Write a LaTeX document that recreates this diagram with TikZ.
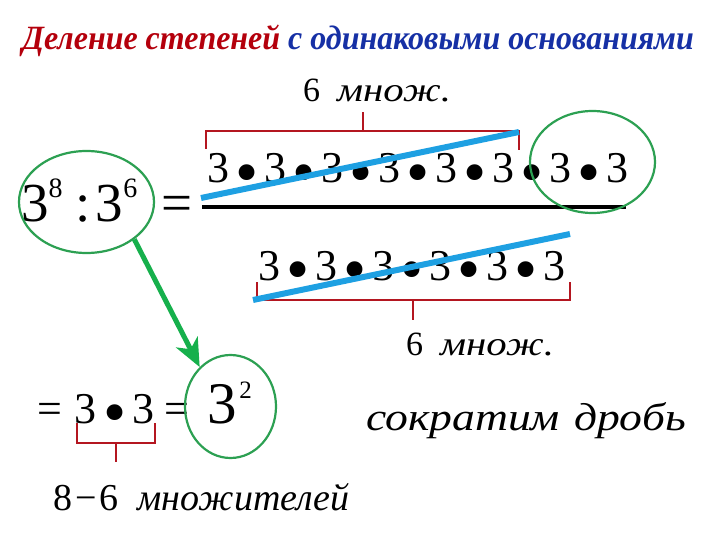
\documentclass[tikz,border=0pt]{standalone}
\usepackage{fontspec}
\setmainfont{Liberation Serif}
\usetikzlibrary{arrows.meta,shapes.geometric}

\definecolor{titelrot}{RGB}{180,0,12}
\definecolor{titelblau}{RGB}{22,48,165}
\definecolor{klammerrot}{RGB}{180,22,32}
\definecolor{ovalgruen}{RGB}{44,160,82}
\definecolor{pfeilgruen}{RGB}{22,176,76}
\definecolor{strichblau}{RGB}{30,160,226}

\newcommand{\fs}[1]{\fontsize{#1}{#1}\selectfont}
\newcommand{\mal}{\hspace{6pt}\raisebox{-11pt}{\scalebox{1.5}{•}}\hspace{6pt}}

\tikzset{
	txt/.style={inner sep=0pt, anchor=base west},
	klammer/.style={draw=klammerrot, line width=2.6pt},
	oval/.style={draw=ovalgruen, ellipse, line width=2.2pt, inner sep=0pt},
	streich/.style={draw=strichblau, line width=6pt},
	pfeil/.style={draw=pfeilgruen, line width=5pt, -{Stealth[length=28pt,width=24pt,inset=8pt]}}
}

\begin{document}
\begin{tikzpicture}[x=1pt, y=-1pt]
			\useasboundingbox (0,0) rectangle (720,540);
			% Titel
			\node [txt] (titel) at (22,50) {\scalebox{0.94}[1]{\fs{34}\bfseries\itshape\color{titelrot}Деление степеней \color{titelblau}с одинаковыми основаниями}};
			% Linke Seite
			\node [txt] (links) at (21,222) {\fs{55}3\raisebox{24pt}{\fs{28}8}\hspace{13pt}:\hspace{5pt}3\raisebox{24pt}{\fs{28}6}};
			\node [txt] (gleich) at (161,222) {\fs{55}=};
			\node [oval, minimum width=135pt, minimum height=102pt] (ovlinks) at (86.5,202) {};
			% Bruch
			\node [txt] (zaehler) at (207,183) {\fs{44}3\mal3\mal3\mal3\mal3\mal3\mal3\mal3};
			\draw [line width=4.5pt] (202,207) -- (626,207);
			\node [txt] (nenner) at (258,280) {\fs{44}3\mal3\mal3\mal3\mal3\mal3};
			\node [oval, minimum width=125pt, minimum height=102pt] (ovrechts) at (592.5,162) {};
			% Klammern
			\draw [klammer] (206,149) -- (206,131) -- (519,131) -- (519,150);
			\draw [klammer] (363,131) -- (363,112);
			\draw [klammer] (257,282) -- (257,300) -- (570,300) -- (570,282);
			\draw [klammer] (413,300) -- (413,320);
			\node [txt] (anzoben) at (303,102) {\fs{34}6\hspace{17pt}\scalebox{1.2}[1]{\itshape множ.}};
			\node [txt] (anzunten) at (406,355) {\fs{34}6\hspace{17pt}\scalebox{1.2}[1]{\itshape множ.}};
			% Streichen
			\draw [streich] (201,198) -- (519,132);
			\draw [streich] (253,300) -- (570,234);
			% Ergebnis
			\node [txt] (ergebnis) at (37,423) {\fs{44}=\hspace{13pt}3\mal3\hspace{10pt}=\hspace{19pt}{\fs{59}3}\hspace{2pt}\raisebox{25pt}{\fs{25}2}};
			\node [oval, minimum width=91pt, minimum height=103pt] (ovunten) at (230.5,406.5) {};
			\draw [klammer] (77,423) -- (77,443) -- (155,443) -- (155,423);
			\draw [klammer] (116,443) -- (116,462);
			\node [txt] (anzahl) at (53,510) {\fs{38}8\hspace{3pt}−\hspace{3pt}6\hspace{19pt}\itshape множителей};
			\node [txt] (kuerzen) at (366,430) {\scalebox{1.17}[1]{\fs{39}\itshape сократим\hspace{12pt}дробь}};
			% Pfeil
			\draw [pfeil] (ovlinks.-38) -- (ovunten.128);
\end{tikzpicture}
\end{document}
